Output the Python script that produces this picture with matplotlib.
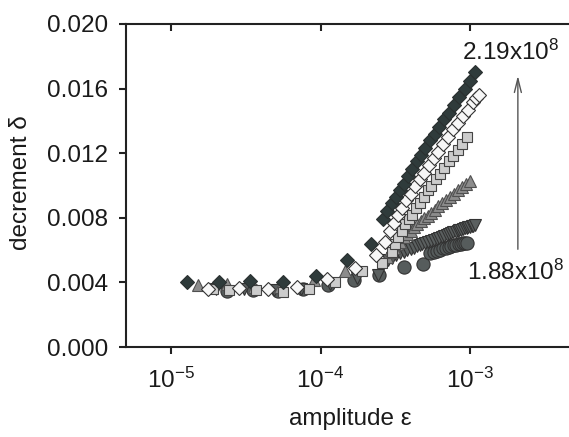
import matplotlib
matplotlib.use('Agg')
import matplotlib.pyplot as plt
from matplotlib.ticker import FixedLocator, FixedFormatter, NullLocator

plt.rcParams['font.family'] = ['Liberation Sans', 'DejaVu Sans']
plt.rcParams['mathtext.fontset'] = 'custom'
plt.rcParams['mathtext.rm'] = 'Liberation Sans'
plt.rcParams['mathtext.it'] = 'Liberation Sans:italic'
plt.rcParams['mathtext.default'] = 'rm'

# dark diamonds (highest stress)
dd_x = [1.28e-5, 2.1e-5, 3.4e-5, 5.6e-5, 9.3e-5, 1.5e-4, 2.18e-4,
        2.6e-4, 2.8e-4, 3.0e-4, 3.2e-4, 3.4e-4, 3.6e-4, 3.85e-4, 4.1e-4, 4.4e-4, 4.7e-4,
        5.0e-4, 5.4e-4, 5.8e-4, 6.2e-4, 6.7e-4, 7.2e-4, 7.8e-4, 8.5e-4, 9.3e-4, 1.0e-3, 1.08e-3]
dd_y = [0.0040, 0.0040, 0.0041, 0.0040, 0.0044, 0.0054, 0.0064,
        0.0079, 0.0084, 0.0089, 0.0093, 0.0097, 0.0101, 0.0106, 0.0110, 0.0115, 0.0119,
        0.0123, 0.0128, 0.0132, 0.0136, 0.0141, 0.0145, 0.0150, 0.0155, 0.0160, 0.0165, 0.0170]

# open diamonds
wd_x = [1.78e-5, 2.86e-5, 4.48e-5, 7.0e-5, 1.10e-4, 1.70e-4, 2.35e-4,
        2.7e-4, 2.9e-4, 3.1e-4, 3.3e-4, 3.5e-4, 3.75e-4, 4.0e-4, 4.3e-4, 4.6e-4, 4.9e-4,
        5.3e-4, 5.7e-4, 6.1e-4, 6.6e-4, 7.1e-4, 7.7e-4, 8.3e-4, 9.0e-4, 9.7e-4, 1.05e-3, 1.1e-3, 1.14e-3]
wd_y = [0.0036, 0.00363, 0.00357, 0.00373, 0.0042, 0.0049, 0.0057,
        0.0065, 0.0072, 0.0077, 0.0082, 0.0086, 0.0091, 0.0095, 0.0100, 0.0104, 0.0108,
        0.0113, 0.0117, 0.0121, 0.0126, 0.0130, 0.0135, 0.0139, 0.0143, 0.0147, 0.0152, 0.0154, 0.0156]

# light grey squares
sq_x = [1.92e-5, 2.45e-5, 3.71e-5, 5.58e-5, 8.33e-5, 1.25e-4, 1.90e-4, 2.59e-4,
        3.0e-4, 3.15e-4, 3.3e-4, 3.5e-4, 3.7e-4, 3.9e-4, 4.1e-4, 4.35e-4, 4.6e-4, 4.9e-4,
        5.2e-4, 5.5e-4, 5.9e-4, 6.3e-4, 6.7e-4, 7.2e-4, 7.7e-4, 8.3e-4, 8.9e-4, 9.6e-4]
sq_y = [0.0036, 0.0035, 0.0035, 0.0034, 0.0036, 0.0040, 0.0047, 0.0052,
        0.0059, 0.0064, 0.0068, 0.0072, 0.0076, 0.0079, 0.0082, 0.0086, 0.0089, 0.0093,
        0.0097, 0.0100, 0.0104, 0.0107, 0.0111, 0.0115, 0.0118, 0.0122, 0.0126, 0.0130]

# grey up triangles
ut_x = [1.51e-5, 2.36e-5, 3.6e-5, 5.4e-5, 9.1e-5, 1.45e-4,
        2.8e-4, 2.95e-4, 3.1e-4, 3.25e-4, 3.4e-4, 3.6e-4, 3.8e-4, 4.0e-4, 4.2e-4, 4.45e-4,
        4.7e-4, 4.95e-4, 5.2e-4, 5.5e-4, 5.8e-4, 6.1e-4, 6.5e-4, 6.9e-4, 7.3e-4, 7.8e-4,
        8.3e-4, 8.8e-4, 9.4e-4, 1.0e-3]
ut_y = [0.00384, 0.00388, 0.0037, 0.0037, 0.00415, 0.0047,
        0.0056, 0.0059, 0.0061, 0.0064, 0.0065, 0.0068, 0.0070, 0.0072, 0.0074, 0.0076,
        0.0078, 0.0080, 0.0081, 0.0083, 0.0085, 0.0087, 0.0089, 0.0091, 0.0093, 0.0095,
        0.0097, 0.0099, 0.0101, 0.0103]

# dark down triangles
dt_x = [2.0e-5, 3.1e-5, 4.9e-5, 7.4e-5, 1.15e-4, 1.75e-4, 2.44e-4,
        2.84e-4, 3.0e-4, 3.2e-4, 3.4e-4, 3.6e-4, 3.8e-4, 4.0e-4, 4.2e-4, 4.4e-4, 4.6e-4,
        4.8e-4, 5.0e-4, 5.25e-4, 5.5e-4, 5.75e-4, 6.0e-4, 6.25e-4, 6.5e-4, 6.75e-4, 7.0e-4,
        7.25e-4, 7.5e-4, 7.75e-4, 8.0e-4, 8.25e-4, 8.5e-4, 8.75e-4, 9.0e-4, 9.25e-4, 9.5e-4,
        9.75e-4, 1.0e-3, 1.025e-3, 1.05e-3, 1.08e-3]
dt_y = [0.0036, 0.0036, 0.0035, 0.0036, 0.0039, 0.0043, 0.00446,
        0.00540, 0.00554, 0.00568, 0.00579, 0.00590, 0.00599, 0.00608, 0.00616, 0.00623, 0.00631,
        0.00637, 0.00644, 0.00651, 0.00658, 0.00665, 0.00671, 0.00678, 0.00683, 0.00689, 0.00694,
        0.00699, 0.00704, 0.00709, 0.00713, 0.00718, 0.00722, 0.00726, 0.00730, 0.00734, 0.00738,
        0.00741, 0.00744, 0.00748, 0.00751, 0.00755]

# dark circles (lowest stress)
ci_x = [2.36e-5, 3.52e-5, 5.22e-5, 7.67e-5, 1.13e-4, 1.68e-4, 2.45e-4, 3.62e-4, 4.83e-4,
        5.4e-4, 5.7e-4, 6.0e-4, 6.3e-4, 6.6e-4, 6.9e-4, 7.2e-4, 7.5e-4, 7.8e-4, 8.1e-4,
        8.4e-4, 8.7e-4, 9.0e-4, 9.3e-4, 9.5e-4]
ci_y = [0.00347, 0.00353, 0.00347, 0.00357, 0.00384, 0.00415, 0.00446, 0.00493, 0.00515,
        0.0058, 0.00588, 0.00596, 0.00603, 0.0061, 0.00615, 0.0062, 0.00625, 0.0063, 0.00634,
        0.00637, 0.0064, 0.00642, 0.00645, 0.00647]

xticks = [1e-5, 1e-4, 1e-3]
xtick_labels = ['$10^{-5}$', '$10^{-4}$', '$10^{-3}$']
yticks = [0.000, 0.004, 0.008, 0.012, 0.016, 0.020]
ytick_labels = ['0.000', '0.004', '0.008', '0.012', '0.016', '0.020']

fig = plt.figure(figsize=(5.69, 4.37), dpi=100)
ax = fig.add_axes([126 / 569, 90 / 437, 448.5 / 569, 323 / 437])

ax.plot(ci_x, ci_y, 'o', ms=9.5, mfc='#565c5c', mec='#333333', mew=0.8, zorder=2)
ax.plot(dt_x, dt_y, 'v', ms=8.5, mfc='#5b6060', mec='#333333', mew=0.8, zorder=3)
ax.plot(ut_x, ut_y, '^', ms=8.5, mfc='#8c8c8c', mec='#505050', mew=0.8, zorder=4)
ax.plot(sq_x, sq_y, 's', ms=7.5, mfc='#cccccc', mec='#444444', mew=0.8, zorder=5)
ax.plot(wd_x, wd_y, 'D', ms=7, mfc='#f7f7f7', mec='#333333', mew=0.8, zorder=6)
ax.plot(dd_x, dd_y, 'D', ms=7, mfc='#2f3b3b', mec='#2a3030', mew=0.8, zorder=7)

ax.set_xscale('log')
ax.set_xlim(5e-6, 5e-3)
ax.set_ylim(0, 0.020)

ax.xaxis.set_major_locator(FixedLocator(xticks))
ax.xaxis.set_major_formatter(FixedFormatter(xtick_labels))
ax.xaxis.set_minor_locator(NullLocator())
ax.set_yticks(yticks)
ax.set_yticklabels(ytick_labels)

ax.spines['right'].set_visible(False)
for s in ['left', 'bottom', 'top']:
    ax.spines[s].set_linewidth(1.5)
    ax.spines[s].set_color('#222222')
ax.tick_params(axis='both', which='major', direction='out', length=5, width=1.5,
               labelsize=17.5, color='#222222', pad=8, labelcolor='#1a1a1a')
ax.tick_params(axis='x', which='major', top=True, pad=10)
# the top ticks point inward
for t in ax.xaxis.get_major_ticks():
    t.tick2line.set_marker(3)

ax.set_xlabel('amplitude ε', fontsize=17.5, color='#1a1a1a')
ax.set_ylabel('decrement δ', fontsize=17.5, color='#1a1a1a')
ax.xaxis.set_label_coords(0.5, -0.19)
ax.yaxis.set_label_coords(-0.21, 0.508)

ax.annotate('', xy=(2.09e-3, 0.01697), xytext=(2.09e-3, 0.00588),
            arrowprops=dict(arrowstyle='->,head_length=1.0,head_width=0.25',
                            color='#555555', lw=1.0))
ax.text(8.85e-4, 0.01827, '2.19x10$^8$', fontsize=17.5, ha='left', va='center',
        color='#1a1a1a')
ax.text(9.55e-4, 0.00464, '1.88x10$^8$', fontsize=17.5, ha='left', va='center',
        color='#1a1a1a')

fig.savefig('out.png', dpi=100)
